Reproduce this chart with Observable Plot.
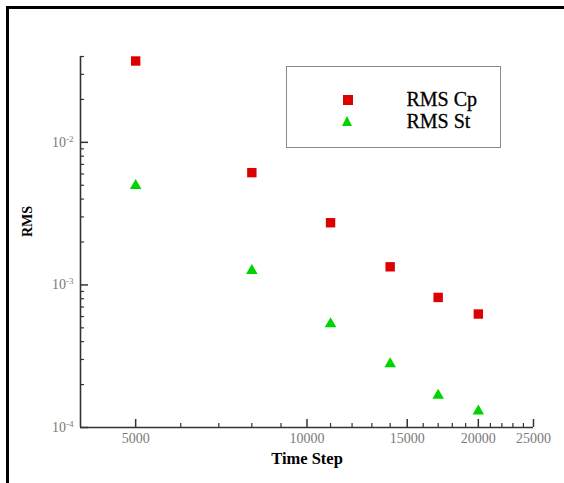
<!DOCTYPE html>
<html>
<head>
<meta charset="utf-8">
<script src="https://cdn.jsdelivr.net/npm/d3@7"></script>
<script src="https://cdn.jsdelivr.net/npm/@observablehq/plot@0.6"></script>
<style>
  body { margin: 0; background: #fff; }
  #wrap { position: relative; width: 564px; height: 483px; overflow: hidden; background: #fff; }
  #wrap svg { position: absolute; left: 0; top: 0; }
  #frame { position: absolute; left: 6px; top: 6px; right: -10px; bottom: -10px;
           border-top: 3px solid #000; border-left: 3px solid #000; pointer-events: none; }
  #legend { position: absolute; left: 286px; top: 66px; width: 215px; height: 82px; box-sizing: border-box;
            border: 1.5px solid #8a8a8a; background: #fff; font-family: "Liberation Serif", serif; }
  #legend .sw { position: absolute; }
  #legend .lab { position: absolute; font-size: 20px; line-height: 20px; color: #000; white-space: nowrap;
                 -webkit-text-stroke: 0.3px #000; }
</style>
</head>
<body>
<div id="wrap"></div>
<script>
// ---- data ----
const timeSteps = [5000, 8000, 11000, 14000, 17000, 20000];
const rmsCp = [0.0372, 0.00613, 0.00273, 0.00134, 0.000817, 0.000625];
const rmsSt = [0.00497, 0.00126, 0.000532, 0.000279, 0.000168, 0.00013];
const seriesNames = ["RMS Cp", "RMS St"];
const seriesColors = ["#dd0000", "#00d400"];

const xMajorTicks = [5000, 10000, 15000, 20000, 25000];
const xMinorTicks = [6000, 7000, 8000, 9000, 11000, 12000, 13000, 14000,
                     16000, 17000, 18000, 19000, 21000, 22000, 23000, 24000];
const yMajorTicks = [1e-4, 1e-3, 1e-2];
const yMinorTicks = [2e-4, 3e-4, 4e-4, 5e-4, 6e-4, 7e-4, 8e-4, 9e-4,
                     2e-3, 3e-3, 4e-3, 5e-3, 6e-3, 7e-3, 8e-3, 9e-3,
                     2e-2, 3e-2, 4e-2];
const yTickExponents = ["-4", "-3", "-2"];
const xDomain = [4000, 25000];
const yDomain = [1e-4, 0.04];
const xTitle = "Time Step";
const yTitle = "RMS";

const cpData = timeSteps.map((t, i) => ({t, v: rmsCp[i]}));
const stData = timeSteps.map((t, i) => ({t, v: rmsSt[i]}));

const W = 564, H = 483, mL = 80, mR = 31, mT = 56, mB = 56;
const frameW = W - mL - mR, frameH = H - mT - mB;
const axisColor = "#333";
const labelColor = "#7a7a7a";

const chart = Plot.plot({
  width: W,
  height: H,
  marginLeft: mL,
  marginRight: mR,
  marginTop: mT,
  marginBottom: mB,
  x: {type: "log", domain: xDomain},
  y: {type: "log", domain: yDomain},
  style: {fontFamily: "Liberation Serif, serif", background: "transparent", overflow: "visible"},
  marks: [
    // inward ticks
    Plot.tickX(xMajorTicks, {x: d => d, insetTop: frameH - 8, stroke: axisColor, strokeWidth: 1.5}),
    Plot.tickX(xMinorTicks, {x: d => d, insetTop: frameH - 4, stroke: axisColor, strokeWidth: 1.2}),
    Plot.tickY(yMajorTicks, {y: d => d, insetRight: frameW - 8, stroke: axisColor, strokeWidth: 1.5}),
    Plot.tickY(yMinorTicks, {y: d => d, insetRight: frameW - 4, stroke: axisColor, strokeWidth: 1.2}),
    // axis lines
    Plot.ruleX([xDomain[0]], {stroke: axisColor, strokeWidth: 1.6}),
    Plot.ruleY([yDomain[0]], {stroke: axisColor, strokeWidth: 1.6}),
    // tick labels
    Plot.axisX({ticks: xMajorTicks, tickSize: 0, tickPadding: 6, tickFormat: d => String(d), label: null,
                fill: labelColor, fontSize: 14}),
    Plot.axisY({ticks: yMajorTicks, tickSize: 0, tickPadding: 7, tickFormat: d => "10", label: null,
                fill: labelColor, fontSize: 14}),
    // axis titles
    Plot.text([xTitle], {text: d => d, frameAnchor: "bottom", dy: 36, fontSize: 16.5, fontWeight: "bold", fill: "#000"}),
    Plot.text([yTitle], {text: d => d, frameAnchor: "left", dx: -53, dy: -5, rotate: -90, fontSize: 14, fontWeight: "bold", fill: "#000"}),
    // data
    Plot.dot(cpData, {x: "t", y: "v", symbol: "square", r: 5.3, fill: seriesColors[0], stroke: "none"}),
    Plot.dot(stData, {x: "t", y: "v", symbol: "triangle", r: 4.3, fill: seriesColors[1], stroke: "none"})
  ]
});

// superscript exponents on the y tick labels
d3.select(chart).selectAll('g[aria-label="y-axis tick label"] text').each(function(d, i) {
  const el = d3.select(this);
  el.text("10");
  el.append("tspan").attr("dy", "-0.55em").attr("font-size", 9).text(yTickExponents[i]);
});

const wrap = document.getElementById("wrap");
wrap.appendChild(chart);

// legend (HTML)
const legend = document.createElement("div");
legend.id = "legend";
legend.innerHTML = `
  <div class="sw" style="left:55.5px;top:27.5px;width:10px;height:10px;background:${seriesColors[0]}"></div>
  <div class="sw" style="left:55px;top:49px;width:0;height:0;border-left:5.5px solid transparent;border-right:5.5px solid transparent;border-bottom:10px solid ${seriesColors[1]}"></div>
  <div class="lab" style="left:119.5px;top:22.4px">${seriesNames[0]}</div>
  <div class="lab" style="left:119.5px;top:43.9px">${seriesNames[1]}</div>`;
wrap.appendChild(legend);

const frame = document.createElement("div");
frame.id = "frame";
wrap.appendChild(frame);
</script>
</body>
</html>
